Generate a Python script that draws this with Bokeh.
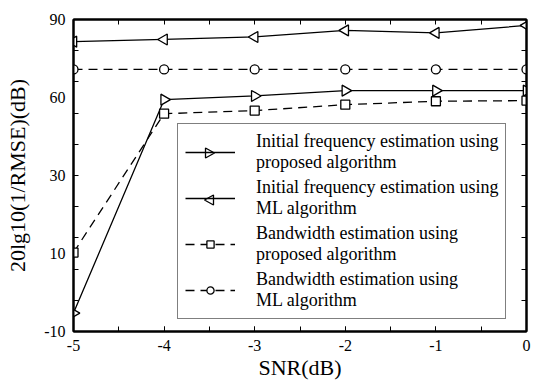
import math
from bokeh.plotting import figure
from bokeh.models import (FixedTicker, LinearAxis, Range1d, Legend, LegendItem, PolyAnnotation)
from bokeh.embed import file_html
from bokeh.resources import INLINE

snr = [-5, -4, -3, -2, -1, 0]
freq_proposed = [-4.1, 64.3, 65.5, 67.2, 67.2, 67.2]
freq_ml = [82.9, 83.6, 84.4, 86.5, 85.7, 88.1]
bw_proposed = [15.3, 59.8, 60.8, 62.7, 63.8, 64.0]
bw_ml = [74.0, 74.0, 74.0, 74.0, 74.0, 74.0]

y_label_pos = [-10, 15, 40, 65, 90]
y_label_text = ["-10", "10", "30", "60", "90"]
y_minor = list(range(-10, 91, 10))
x_ticks = [-5, -4, -3, -2, -1, 0]
x_minor = [-5 + 0.5 * i for i in range(11)]

labels = [
    "Initial frequency estimation using\nproposed algorithm",
    "Initial frequency estimation using\nML algorithm",
    "Bandwidth estimation using\nproposed algorithm",
    "Bandwidth estimation using\nML algorithm",
]

FONT = "Liberation Serif"
FL, FR, FT, FB = 73, 9, 19, 55
W, H = 535, 386
frame_bottom = H - FB

p = figure(width=W, height=H, output_backend="svg", toolbar_location=None,
           x_range=Range1d(-5, 0), y_range=Range1d(-10, 90),
           min_border_left=FL, min_border_right=FR, min_border_top=FT, min_border_bottom=FB,
           x_axis_label="SNR(dB)", y_axis_label="20lg10(1/RMSE)(dB)")
p.grid.visible = False
p.outline_line_color = "black"
p.outline_line_width = 2
p.background_fill_color = "white"
p.border_fill_color = "white"

p.xaxis.ticker = FixedTicker(ticks=x_ticks, minor_ticks=x_minor)
p.yaxis.ticker = FixedTicker(ticks=y_label_pos, minor_ticks=y_minor)
p.yaxis.major_label_overrides = {v: t for v, t in zip(y_label_pos, y_label_text)}
p.xaxis.major_label_overrides = {v: str(v) for v in x_ticks}

for ax in (p.xaxis[0], p.yaxis[0]):
    ax.axis_line_color = "black"
    ax.axis_line_width = 2
    ax.major_label_text_font = FONT
    ax.major_label_text_font_size = "16px"
    ax.major_label_text_color = "black"
    ax.axis_label_text_font = FONT
    ax.axis_label_text_font_size = "22px"
    ax.axis_label_text_font_style = "normal"
    ax.axis_label_text_color = "black"
    ax.major_tick_out = 0
    ax.major_tick_in = 5
    ax.minor_tick_out = 0
    ax.minor_tick_in = 5
    ax.major_tick_line_color = "black"
    ax.minor_tick_line_color = "black"
p.yaxis.major_tick_line_color = None
p.yaxis.major_label_standoff = 8
p.xaxis.major_label_standoff = 8
p.xaxis.axis_label_standoff = 1
p.yaxis.axis_label_standoff = 11

top = LinearAxis(ticker=FixedTicker(ticks=[], minor_ticks=x_minor),
                 major_tick_out=0, major_tick_in=0,
                 minor_tick_out=0, minor_tick_in=5, axis_line_width=2,
                 minor_tick_line_color="black")
right = LinearAxis(ticker=FixedTicker(ticks=[], minor_ticks=y_minor),
                   major_tick_out=0, major_tick_in=0,
                   minor_tick_out=0, minor_tick_in=5, axis_line_width=2,
                   minor_tick_line_color="black")
p.add_layout(top, "above")
p.add_layout(right, "right")

l1 = p.line(snr, freq_proposed, line_color="black", line_width=1.3)
m1 = p.scatter(snr, freq_proposed, marker="triangle", size=11, angle=-math.pi / 2,
               fill_color="white", line_color="black", line_width=1.3)
l2 = p.line(snr, freq_ml, line_color="black", line_width=1.3)
m2 = p.scatter(snr, freq_ml, marker="triangle", size=11, angle=math.pi / 2,
               fill_color="white", line_color="black", line_width=1.3)
l3 = p.line(snr, bw_proposed, line_color="black", line_width=1.3, line_dash="9 6")
m3 = p.scatter(snr, bw_proposed, marker="square", size=9,
               fill_color="white", line_color="black", line_width=1.3)
l4 = p.line(snr, bw_ml, line_color="black", line_width=1.3, line_dash="9 6")
m4 = p.scatter(snr, bw_ml, marker="circle", size=9,
               fill_color="white", line_color="black", line_width=1.3)

PAD, SPC, GW, ITEM_H = 7, 4, 50, 43
items = [LegendItem(label=labels[0], renderers=[l1]),
         LegendItem(label=labels[1], renderers=[l2]),
         LegendItem(label=labels[2], renderers=[l3, m3]),
         LegendItem(label=labels[3], renderers=[l4, m4])]
legend = Legend(items=items, location=(104, 12), margin=0, padding=PAD, spacing=SPC,
                glyph_width=GW, glyph_height=18, label_standoff=21,
                label_text_font=FONT, label_text_font_size="18px",
                label_text_color="black", border_line_color="black",
                border_line_width=1.3, background_fill_alpha=0, level="annotation")
p.add_layout(legend, "center")

# sideways triangle markers for the legend (Bokeh legends do not rotate markers)
box_h = 2 * PAD + 4 * ITEM_H + 3 * SPC
leg_cx = 104 + PAD + GW / 2
for i, d in zip((0, 1), (1, -1)):
    cy_from_bottom = box_h - PAD - ITEM_H / 2 - i * (ITEM_H + SPC) - 3
    yf = 12 + cy_from_bottom
    xs = [leg_cx - 4 * d, leg_cx - 4 * d, leg_cx + 5 * d]
    ys = [yf - 5, yf + 5, yf]
    p.add_layout(PolyAnnotation(xs=xs, ys=ys, xs_units="screen", ys_units="screen",
                                fill_color="white", fill_alpha=1, level="overlay",
                                line_color="black", line_alpha=1, line_width=1.3))

open("out.html", "w").write(file_html(p, INLINE))
